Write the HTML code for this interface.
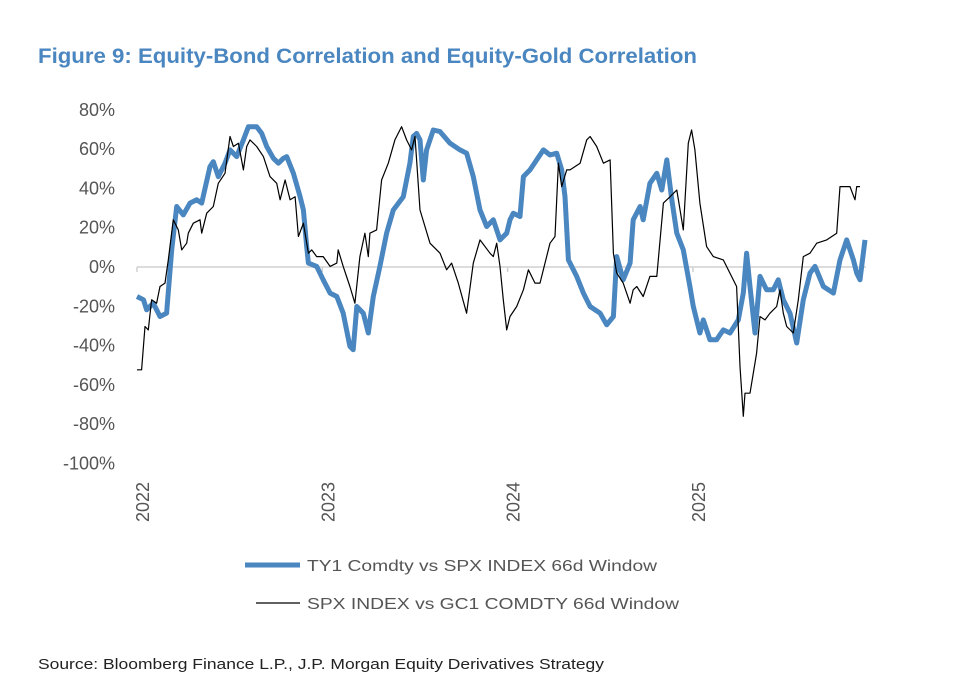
<!DOCTYPE html>
<html><head><meta charset="utf-8"><style>
html,body{margin:0;padding:0;background:#fff;}
svg{display:block;font-family:"Liberation Sans",Arial,sans-serif;}
</style></head><body>
<svg id="chart" width="978" height="680" viewBox="0 0 978 680">
<rect width="978" height="680" fill="#fff"/>
<text x="38" y="63" font-size="21" font-weight="bold" fill="#4a86c0" textLength="659" lengthAdjust="spacingAndGlyphs">Figure 9: Equity-Bond Correlation and Equity-Gold Correlation</text>
<g id="yaxis"></g>
<g id="xaxis"></g>
<g id="series"></g>
<g>
<line x1="245" y1="565" x2="300" y2="565" stroke="#4a86bf" stroke-width="5"/>
<text x="307" y="571" font-size="16" fill="#555" textLength="350" lengthAdjust="spacingAndGlyphs">TY1 Comdty vs SPX INDEX 66d Window</text>
<line x1="256" y1="603" x2="300" y2="603" stroke="#000" stroke-width="1.3"/>
<text x="307" y="609" font-size="16" fill="#555" textLength="372" lengthAdjust="spacingAndGlyphs">SPX INDEX vs GC1 COMDTY 66d Window</text>
</g>
<text x="38" y="669" font-size="15" fill="#222" textLength="566" lengthAdjust="spacingAndGlyphs">Source: Bloomberg Finance L.P., J.P. Morgan Equity Derivatives Strategy</text>
</svg>
<script>
const yTicks = [80,60,40,20,0,-20,-40,-60,-80,-100];
const yearLabels = ["2022","2023","2024","2025"];
const bondT = [0,0.035,0.052,0.088,0.124,0.16,0.187,0.214,0.25,0.286,0.322,0.349,0.394,0.412,0.439,0.475,0.502,0.538,0.574,0.601,0.646,0.673,0.7,0.736,0.763,0.79,0.808,0.844,0.88,0.898,0.916,0.925,0.97,1.005,1.042,1.078,1.113,1.149,1.167,1.186,1.221,1.248,1.275,1.311,1.347,1.383,1.437,1.473,1.491,1.509,1.527,1.545,1.563,1.599,1.635,1.689,1.743,1.779,1.815,1.851,1.887,1.923,1.941,1.959,1.995,2.013,2.031,2.067,2.085,2.121,2.157,2.193,2.229,2.265,2.292,2.31,2.328,2.373,2.409,2.445,2.499,2.535,2.571,2.589,2.624,2.661,2.678,2.715,2.732,2.768,2.805,2.832,2.859,2.886,2.913,2.948,2.984,3.002,3.038,3.056,3.092,3.128,3.164,3.2,3.245,3.272,3.29,3.308,3.335,3.362,3.398,3.434,3.461,3.488,3.524,3.56,3.596,3.632,3.659,3.704,3.758,3.794,3.83,3.866,3.884,3.902,3.929];
const bondV = [-15,-16.7,-21.8,-18.4,-25.2,-23.5,8.7,30.8,26.5,32.5,34.2,32.5,51.1,53.6,46,52.8,59.6,56.2,64.7,71.4,71.4,68,61.3,55.3,52.8,55.3,56.2,47.7,35.8,29,10.4,2,0.3,-6.5,-13.3,-15,-23.5,-40.4,-42.1,-20.1,-23.5,-33.6,-15,0.3,17.2,29,35.8,52.8,66.4,68,64.7,44.3,59.6,69.7,68.9,63,59.6,57.9,46,29,20.6,24,18.9,13.8,17.2,24,27.4,25.7,46,49.4,54.5,59.6,57,57.9,49.4,35.8,3.6,-4.8,-13.3,-20.1,-23.5,-29.4,-25.2,5.3,-6.5,2,24,30.8,24,42.6,47.7,39.2,54.5,34.2,17.2,8.7,-9.9,-20.1,-33.6,-26.9,-37,-37,-32,-33.6,-26.9,-13.3,7,-9.9,-33.6,-4.8,-11.6,-11.6,-6.5,-16.7,-23.5,-38.7,-16.7,-3.1,0.3,-9.9,-13.3,3.6,13.8,3.6,-3.1,-6.5,13.8];
const goldT = [0,0.025,0.043,0.061,0.079,0.106,0.124,0.151,0.169,0.196,0.223,0.241,0.268,0.277,0.304,0.34,0.349,0.376,0.412,0.439,0.475,0.502,0.52,0.547,0.574,0.592,0.61,0.646,0.682,0.718,0.754,0.772,0.799,0.826,0.853,0.871,0.898,0.925,0.943,0.97,1.005,1.042,1.078,1.086,1.113,1.149,1.176,1.203,1.23,1.248,1.257,1.293,1.32,1.356,1.392,1.428,1.455,1.482,1.5,1.527,1.581,1.635,1.671,1.698,1.734,1.779,1.815,1.851,1.905,1.923,1.941,1.959,1.977,1.995,2.013,2.049,2.085,2.112,2.148,2.175,2.229,2.256,2.274,2.292,2.319,2.337,2.391,2.427,2.445,2.481,2.517,2.553,2.571,2.589,2.624,2.661,2.678,2.697,2.732,2.768,2.805,2.841,2.877,2.913,2.948,2.975,2.993,3.011,3.038,3.074,3.11,3.164,3.236,3.254,3.272,3.281,3.308,3.344,3.362,3.389,3.416,3.452,3.47,3.488,3.506,3.542,3.569,3.596,3.632,3.668,3.722,3.776,3.794,3.821,3.848,3.875,3.884,3.902,3.92];
const goldV = [-52.3,-52.3,-30.3,-32,-16.7,-18.4,-9.9,-8.2,3.6,24,18.9,8.7,12.1,17.2,22.3,24,17.2,27.4,30.8,42.6,47.7,66.4,61.3,63,49.4,61.3,64.7,61.3,56.2,46,42.6,34.2,44.3,34.2,35.8,15.5,22.3,7,8.7,5.3,5.3,0.3,2,8.7,0.3,-9.9,-18.4,5.3,17.2,5.3,17.2,18.9,44.3,52.8,64.7,71.4,64.7,59.6,66.4,29,12.1,7,-1.4,2,-8.2,-23.5,2,13.8,7,5.3,12.1,0.3,-16.7,-32,-25.2,-20.1,-11.6,-1.4,-8.2,-8.2,12.1,15.5,52.8,40.9,49.4,49.4,52.8,64.7,66.4,61.3,52.8,54.5,7,-3.1,-8.2,-18.4,-11.6,-9.9,-15,-4.8,-4.8,32.5,35.8,39.2,18.9,63,69.7,59.6,32.5,10.4,5.3,3.6,-9.9,-50.6,-76,-64.2,-64.2,-43.8,-25.2,-26.9,-23.5,-20.1,-11.6,-23.5,-30.3,-33.6,-16.7,5.3,7,12.1,13.8,17.2,40.9,40.9,40.9,34.2,40.9,40.9];

const NS = "http://www.w3.org/2000/svg";
function xScale(t){ return 137 + t*185.3; }
function yScale(v){ return 267 - v*1.965; }
function mk(tag, attrs, parent){
  const el = document.createElementNS(NS, tag);
  for (const k in attrs) el.setAttribute(k, attrs[k]);
  parent.appendChild(el);
  return el;
}
const yg = document.getElementById('yaxis');
yTicks.forEach(v => {
  const t = mk('text', {x:115, y:yScale(v)+6, 'font-size':18, fill:'#555', 'text-anchor':'end'}, yg);
  
  
  t.textContent = v + '%';
});
const xg = document.getElementById('xaxis');
const zl = mk('line', {x1:137, y1:yScale(0), x2:866, y2:yScale(0), stroke:'#d0d0d0', 'stroke-width':1.5}, xg);


yearLabels.forEach((lab, i) => {
  const x = xScale(i);
  const tk = mk('line', {x1:x, y1:yScale(0), x2:x, y2:yScale(0)+5, stroke:'#d0d0d0', 'stroke-width':1.5}, xg);
  
  
  const t = mk('text', {x:0, y:0, 'font-size':18, fill:'#555', 'text-anchor':'end', transform:'translate('+(x+12)+',482) rotate(-90)'}, xg);
  
  
  t.textContent = lab;
});
const sg = document.getElementById('series');
function path(ts, vs){ return ts.map((t,i)=>(i?'L':'M')+xScale(t).toFixed(1)+','+yScale(vs[i]).toFixed(1)).join(''); }
const bl = mk('path', {d:path(bondT,bondV), fill:'none', stroke:'#4a86bf', 'stroke-width':5, 'stroke-linejoin':'round'}, sg);


const gl = mk('path', {d:path(goldT,goldV), fill:'none', stroke:'#000', 'stroke-width':1.2, 'stroke-linejoin':'round'}, sg);


</script>
</body></html>
